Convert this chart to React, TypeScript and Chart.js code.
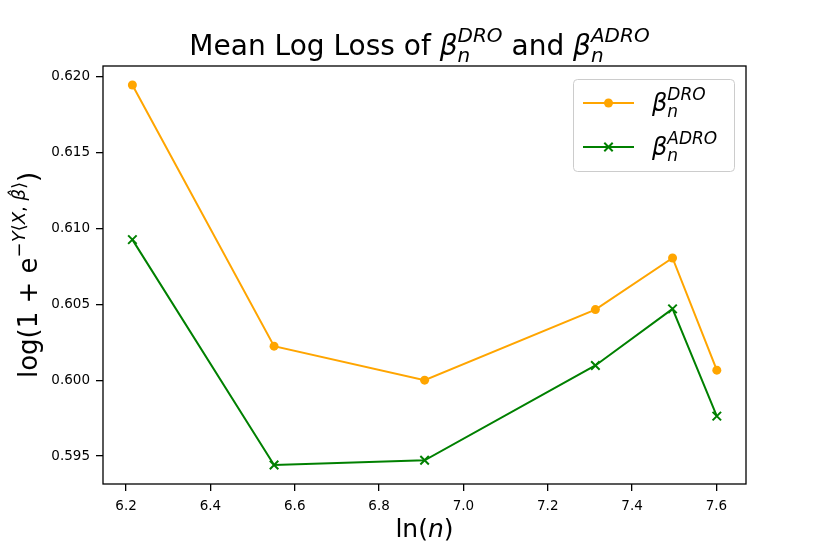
import { useEffect, useRef } from 'react';
import { Chart, registerables } from 'chart.js';

Chart.register(...registerables);

// ln(n) for the sample sizes
const lnN = [6.215, 6.551, 6.908, 7.313, 7.496, 7.601];
const lossDRO = [0.61945, 0.60224, 0.6, 0.60465, 0.60805, 0.60066];
const lossADRO = [0.60926, 0.59441, 0.59472, 0.60097, 0.6047, 0.59763];
const xTicks = [6.2, 6.4, 6.6, 6.8, 7.0, 7.2, 7.4, 7.6];
const yTicks = [0.595, 0.6, 0.605, 0.61, 0.615, 0.62];

const FONT = '"DejaVu Sans", "Liberation Sans", sans-serif';
const ORANGE = '#ffa500';
const GREEN = '#008000';

type Run = { t: string; size: number; it?: boolean; dy?: number; join?: boolean };

function fontOf(r: Run) {
  return `${r.it ? 'italic ' : ''}${r.size}px ${FONT}`;
}

// lay out runs of text; a "join" run is stacked at the same x as the run before it
function drawRuns(ctx: CanvasRenderingContext2D, runs: Run[], x: number, y: number, align: 'left' | 'center') {
  const pos: number[] = [];
  let cur = 0;
  let prevStart = 0;
  let prevW = 0;
  for (const r of runs) {
    ctx.font = fontOf(r);
    const w = ctx.measureText(r.t).width;
    if (r.join) {
      pos.push(prevStart);
      prevW = Math.max(prevW, w);
      cur = prevStart + prevW;
    } else {
      pos.push(cur);
      prevStart = cur;
      prevW = w;
      cur += w;
    }
  }
  const x0 = align === 'center' ? x - cur / 2 : x;
  ctx.textAlign = 'left';
  ctx.textBaseline = 'alphabetic';
  ctx.fillStyle = '#000';
  runs.forEach((r, i) => {
    ctx.font = fontOf(r);
    ctx.fillText(r.t, x0 + pos[i], y + (r.dy || 0));
  });
}

const titleRuns: Run[] = [
  { t: 'Mean Log Loss of ', size: 28 },
  { t: 'β', size: 28, it: true },
  { t: 'DRO', size: 20, it: true, dy: -13 },
  { t: 'n', size: 20, it: true, dy: 7, join: true },
  { t: ' and ', size: 28 },
  { t: 'β', size: 28, it: true },
  { t: 'ADRO', size: 20, it: true, dy: -13 },
  { t: 'n', size: 20, it: true, dy: 7, join: true },
];

const yLabelRuns: Run[] = [
  { t: 'log(1 + e', size: 26 },
  { t: '−', size: 18, dy: -12 },
  { t: 'Y', size: 18, it: true, dy: -12 },
  { t: '⟨', size: 18, dy: -12 },
  { t: 'X', size: 18, it: true, dy: -12 },
  { t: ', ', size: 18, dy: -12 },
  { t: 'β̂', size: 18, it: true, dy: -12 },
  { t: '⟩', size: 18, dy: -12 },
  { t: ')', size: 26 },
];

const xLabelRuns: Run[] = [
  { t: 'ln(', size: 25 },
  { t: 'n', size: 25, it: true },
  { t: ')', size: 25 },
];

const legendItems = [
  { sup: 'DRO', color: ORANGE, marker: 'circle' },
  { sup: 'ADRO', color: GREEN, marker: 'cross' },
];

const decorations = {
  id: 'decorations',
  afterDraw(chart: Chart) {
    const { ctx, chartArea } = chart;
    const { left, right, top, bottom } = chartArea;
    ctx.save();

    // axes box
    ctx.strokeStyle = '#000';
    ctx.lineWidth = 1.3;
    ctx.strokeRect(left, top, right - left, bottom - top);

    // title and axis labels
    const cx = (left + right) / 2;
    drawRuns(ctx, titleRuns, cx - 5, 55, 'center');
    drawRuns(ctx, xLabelRuns, cx, 537, 'center');
    ctx.save();
    ctx.translate(37, (top + bottom) / 2);
    ctx.rotate(-Math.PI / 2);
    drawRuns(ctx, yLabelRuns, 0, 0, 'center');
    ctx.restore();

    // legend
    const bx = 573.5, by = 79.5, bw = 161, bh = 92;
    ctx.beginPath();
    ctx.roundRect(bx, by, bw, bh, 4);
    ctx.fillStyle = 'rgba(255,255,255,0.8)';
    ctx.fill();
    ctx.strokeStyle = '#cccccc';
    ctx.lineWidth = 1;
    ctx.stroke();
    legendItems.forEach((item, i) => {
      const ly = 103 + i * 44;
      ctx.strokeStyle = item.color;
      ctx.fillStyle = item.color;
      ctx.lineWidth = 2;
      ctx.beginPath();
      ctx.moveTo(583, ly);
      ctx.lineTo(634, ly);
      ctx.stroke();
      const mx = 608.5;
      if (item.marker === 'circle') {
        ctx.beginPath();
        ctx.arc(mx, ly, 4.5, 0, Math.PI * 2);
        ctx.fill();
      } else {
        const s = 4.2;
        ctx.beginPath();
        ctx.moveTo(mx - s, ly - s);
        ctx.lineTo(mx + s, ly + s);
        ctx.moveTo(mx + s, ly - s);
        ctx.lineTo(mx - s, ly + s);
        ctx.stroke();
      }
      drawRuns(ctx, [
        { t: 'β', size: 24, it: true },
        { t: item.sup, size: 17, it: true, dy: -11 },
        { t: 'n', size: 17, it: true, dy: 6, join: true },
      ], 652, ly + 8, 'left');
    });
    ctx.restore();
  },
};

export default function App() {
  const canvasRef = useRef<HTMLCanvasElement>(null);
  const chartRef = useRef<Chart | null>(null);

  useEffect(() => {
    document.body.style.margin = '0';
    if (!canvasRef.current) return;
    if (chartRef.current) chartRef.current.destroy();

    const tickFont = { family: FONT, size: 13.5 };

    chartRef.current = new Chart(canvasRef.current, {
      type: 'line',
      data: {
        datasets: [
          {
            label: 'DRO',
            data: lnN.map((x, i) => ({ x, y: lossDRO[i] })),
            borderColor: ORANGE,
            backgroundColor: ORANGE,
            borderWidth: 2,
            pointStyle: 'circle',
            pointRadius: 4.5,
            pointBorderWidth: 0,
            pointBackgroundColor: ORANGE,
            tension: 0,
          },
          {
            label: 'ADRO',
            data: lnN.map((x, i) => ({ x, y: lossADRO[i] })),
            borderColor: GREEN,
            backgroundColor: GREEN,
            borderWidth: 2,
            pointStyle: 'crossRot',
            pointRadius: 6,
            pointBorderWidth: 2,
            pointBorderColor: GREEN,
            tension: 0,
          },
        ],
      },
      options: {
        responsive: false,
        animation: false,
        layout: { padding: { left: 0, right: 84, top: 66, bottom: 0 } },
        plugins: {
          legend: { display: false },
          title: { display: false },
          tooltip: { enabled: false },
        },
        scales: {
          x: {
            type: 'linear',
            min: 6.1453,
            max: 7.6702,
            border: { display: false },
            grid: { drawOnChartArea: false, drawTicks: true, tickLength: 7, color: '#000', lineWidth: 1.3 },
            ticks: {
              color: '#000',
              font: tickFont,
              padding: 7,
              callback: (v) => Number(v).toFixed(1),
            },
            afterBuildTicks: (axis) => {
              axis.ticks = xTicks.map((value) => ({ value }));
            },
            afterFit: (axis) => {
              axis.height = 70;
            },
          },
          y: {
            type: 'linear',
            min: 0.59316,
            max: 0.6207,
            border: { display: false },
            grid: { drawOnChartArea: false, drawTicks: true, tickLength: 7, color: '#000', lineWidth: 1.3 },
            ticks: {
              color: '#000',
              font: tickFont,
              padding: 6,
              callback: (v) => Number(v).toFixed(3),
            },
            afterBuildTicks: (axis) => {
              axis.ticks = yTicks.map((value) => ({ value }));
            },
            afterFit: (axis) => {
              axis.width = 103;
            },
          },
        },
      },
      plugins: [decorations],
    });

    return () => {
      if (chartRef.current) {
        chartRef.current.destroy();
        chartRef.current = null;
      }
    };
  }, []);

  return (
    <div style={{ width: '830px', height: '554px' }}>
      <canvas ref={canvasRef} width={830} height={554} />
    </div>
  );
}
